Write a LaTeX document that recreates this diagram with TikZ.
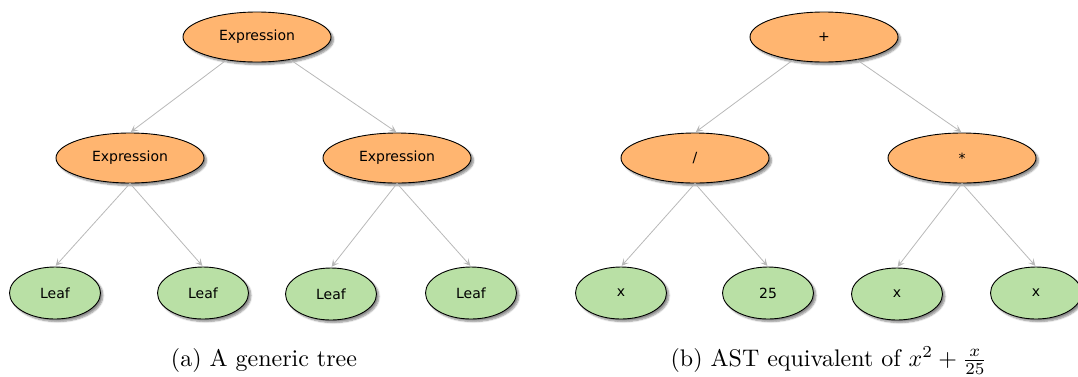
\documentclass[tikz,border=0pt]{standalone}
\usepackage{fontspec}
\newfontfamily\nodefont{DejaVu Sans}
\usetikzlibrary{arrows.meta,shadows.blur,shapes.geometric}
\definecolor{orangefill}{HTML}{FFB570}
\definecolor{greenfill}{HTML}{B9E0A5}
\definecolor{edgegray}{HTML}{B8B8B8}
\tikzset{
  nodebase/.style={ellipse, draw=black, line width=0.9pt, inner sep=0pt,
    font=\nodefont\fontsize{14}{16}\selectfont,
    blur shadow={shadow xshift=2.5pt, shadow yshift=-2.5pt, shadow blur steps=6, shadow opacity=45}},
  innerbox/.style={nodebase, fill=orangefill, minimum width=148pt, minimum height=50pt},
  leafbox/.style={nodebase, fill=greenfill, minimum width=91pt, minimum height=52pt},
  connector/.style={draw=edgegray, line width=0.8pt, -{Stealth[length=7pt,width=7pt,inset=3pt]}, shorten >=1pt},
  capstyle/.style={anchor=base, inner sep=0pt, font=\fontsize{10}{12}\selectfont}
}
\begin{document}
\begin{tikzpicture}[x=1pt,y=-1pt]
\useasboundingbox (0,0) rectangle (1078,376);
% left tree
\node[innerbox] (e0) at (257,37) {Expression};
\node[innerbox] (e1) at (130,158) {Expression};
\node[innerbox] (e2) at (397,158) {Expression};
\node[leafbox] (l1) at (55,293) {Leaf};
\node[leafbox] (l2) at (203,293) {Leaf};
\node[leafbox] (l3) at (331,294) {Leaf};
\node[leafbox] (l4) at (471,293) {Leaf};
\draw[connector] (e0) -- (e1.north);
\draw[connector] (e0) -- (e2.north);
\draw[connector] (e1.south) -- (l1.north);
\draw[connector] (e1.south) -- (l2.north);
\draw[connector] (e2.south) -- (l3.north);
\draw[connector] (e2.south) -- (l4.north);
\node[capstyle] (capa) at (264,366) {\scalebox{2.4}{(a) A generic tree}};
% right tree
\node[innerbox] (p) at (824,37) {+};
\node[innerbox] (d) at (695,158) {/};
\node[innerbox] (m) at (962,158) {*};
\node[leafbox] (x1) at (621,293) {x};
\node[leafbox] (n25) at (768,293) {25};
\node[leafbox] (x2) at (897,294) {x};
\node[leafbox] (x3) at (1036,293) {x};
\draw[connector] (p) -- (d.north);
\draw[connector] (p) -- (m.north);
\draw[connector] (d.south) -- (x1.north);
\draw[connector] (d.south) -- (n25.north);
\draw[connector] (m.south) -- (x2.north);
\draw[connector] (m.south) -- (x3.north);
\node[capstyle] (capb) at (829,366) {\scalebox{2.4}{(b) AST equivalent of $x^2+\frac{x}{25}$}};
\end{tikzpicture}
\end{document}
